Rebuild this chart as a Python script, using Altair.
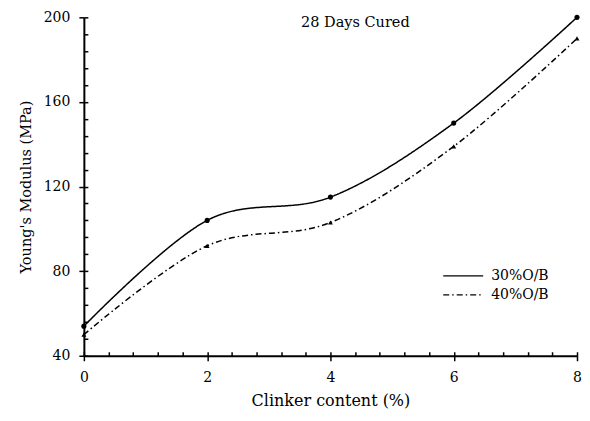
import altair as alt
import pandas as pd

clinker = [0, 2, 4, 6, 8]
series_30 = [54, 104, 115, 150, 200]
series_40 = [50, 92, 103, 139, 190]
series_names = ["30%O/B", "40%O/B"]

rows = []
for name, vals in zip(series_names, [series_30, series_40]):
    for c, v in zip(clinker, vals):
        rows.append({"Clinker": c, "E": v, "Series": name})
df = pd.DataFrame(rows)

FONT = "DejaVu Serif"
W, H = 494, 339

xscale = alt.Scale(domain=[0, 8], nice=False)
yscale = alt.Scale(domain=[40, 200], nice=False)

dash = alt.StrokeDash(
    "Series:N",
    scale=alt.Scale(domain=series_names, range=[[1, 0], [6, 3, 1.5, 3]]),
    legend=alt.Legend(
        title=None, orient="none", legendX=373, legendY=252,
        symbolType="M-10,0H10", symbolSize=16, symbolStrokeWidth=1.3,
        symbolStrokeColor="black", symbolFillColor="transparent",
        labelFont=FONT, labelFontSize=14,
        labelColor="black", rowPadding=5, labelOffset=21, padding=0,
    ),
)

base = alt.Chart(df)

lines = base.mark_line(interpolate="cardinal", color="black", strokeWidth=1.5).encode(
    x=alt.X("Clinker:Q", scale=xscale,
            axis=alt.Axis(title="Clinker content (%)", values=clinker, format="d",
                          tickSize=5, labelPadding=10, titlePadding=8, labelFlush=False,
                          domainColor="black", tickColor="black", labelColor="black",
                          titleColor="black", labelFont=FONT, titleFont=FONT,
                          labelFontSize=14, titleFontSize=16, titleFontWeight="normal",
                          grid=False, domainWidth=2, tickWidth=1.5)),
    y=alt.Y("E:Q", scale=yscale,
            axis=alt.Axis(title="Young's Modulus (MPa)", values=[40, 80, 120, 160, 200],
                          tickSize=5, labelPadding=9, titlePadding=10, labelFlush=False,
                          domainColor="black", tickColor="black", labelColor="black",
                          titleColor="black", labelFont=FONT, titleFont=FONT,
                          labelFontSize=14, titleFontSize=14.5, titleFontWeight="normal",
                          grid=False, domainWidth=2, tickWidth=1.5)),
    strokeDash=dash,
    detail="Series:N",
)

pts30 = base.transform_filter(alt.datum.Series == series_names[0]).mark_point(
    filled=True, color="black", size=26, opacity=1, shape="circle").encode(
    x=alt.X("Clinker:Q", scale=xscale, axis=None),
    y=alt.Y("E:Q", scale=yscale, axis=None),
)
pts40 = base.transform_filter(alt.datum.Series == series_names[1]).mark_point(
    filled=True, color="black", size=24, opacity=1, shape="triangle-up").encode(
    x=alt.X("Clinker:Q", scale=xscale, axis=None),
    y=alt.Y("E:Q", scale=yscale, axis=None),
)

minor_x = [i * 0.4 for i in range(21)]
minor_y = [40 + 8 * i for i in range(21)]

minor_x_layer = base.mark_point(opacity=0).encode(
    x=alt.X("Clinker:Q", scale=xscale,
            axis=alt.Axis(orient="top", offset=-H, values=minor_x, labels=False,
                          title=None, domain=False, tickSize=4, tickColor="black",
                          tickWidth=1.5, grid=False)),
    y=alt.Y("E:Q", scale=yscale, axis=None),
)
minor_y_layer = base.mark_point(opacity=0).encode(
    x=alt.X("Clinker:Q", scale=xscale, axis=None),
    y=alt.Y("E:Q", scale=yscale,
            axis=alt.Axis(orient="right", offset=-W, values=minor_y, labels=False,
                          title=None, domain=False, tickSize=4, tickColor="black",
                          tickWidth=1.5, grid=False)),
)

chart = alt.layer(lines, pts30, pts40, minor_x_layer, minor_y_layer).resolve_axis(
    x="independent", y="independent"
).properties(
    width=W, height=H,
    title=alt.TitleParams("28 Days Cured", font=FONT, fontSize=14.5, fontWeight="normal",
                          color="black", anchor="middle", dx=25, dy=20, offset=0),
    autosize=alt.AutoSizeParams(type="none"),
    padding={"left": 76, "top": 9, "right": 5, "bottom": 57},
).configure_view(stroke=None)

chart.save("out.html", embed_options={"renderer": "svg", "actions": False})
